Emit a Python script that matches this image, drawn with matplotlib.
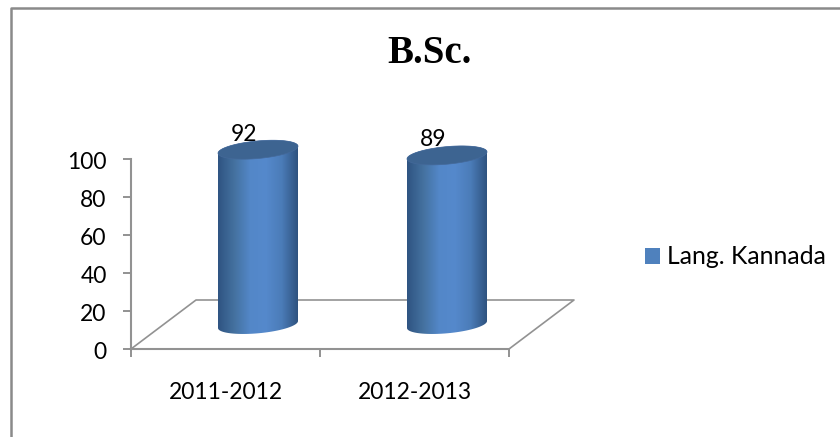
import matplotlib
matplotlib.use('Agg')
import matplotlib.pyplot as plt
import numpy as np
from matplotlib.colors import LinearSegmentedColormap
from matplotlib.lines import Line2D
from matplotlib.patches import Polygon, Rectangle
from matplotlib.transforms import ScaledTranslation

categories = ['2011-2012', '2012-2013']
values = [92, 89]
series_name = 'Lang. Kannada'
y_ticks = [0, 20, 40, 60, 80, 100]
title = 'B.Sc.'

W, H = 840, 437
AX_L, AX_R, AX_B, AX_T = 131, 509, 349, 159
PX_X = 1 / ((AX_R - AX_L) / 2)   # one pixel in category units
PX_Y = 100 / (AX_B - AX_T)       # one pixel in value units

GREY = '#929292'
FONT = 'Lato'
FS = 16.5

# depth of the fake 3d floor, in pixels
DEPTH_X, DEPTH_Y = 65, 49
cmap = LinearSegmentedColormap.from_list(
    'cyl', ['#2f5482', '#44719f', '#5387c8', '#5589cc', '#4b7cb8', '#2f5380'])


def ellipse(cx, cy, t):
    # sheared ellipse in pixels offset from a data point
    hw, slope, b = 40, 3.5, 8.8
    x = cx + hw * PX_X * np.cos(t)
    y = cy + (slope * np.cos(t) + b * np.sin(t)) * PX_Y
    return np.column_stack([x, y])


def cylinder(ax, x, v):
    cx = x + DEPTH_X / 2 * PX_X
    base = DEPTH_Y / 2 * PX_Y
    top = base + v
    t_up = np.linspace(np.pi, 0, 60)
    t_down = np.linspace(0, -np.pi, 60)
    body = Polygon(np.vstack([ellipse(cx, top, t_up), ellipse(cx, base, t_down)]),
                   closed=True, transform=ax.transData, fc='none', ec='none')
    ax.add_patch(body)
    hw = 40 * PX_X
    im = ax.imshow(np.linspace(0, 1, 128).reshape(1, -1), cmap=cmap, aspect='auto',
                   extent=[cx - hw, cx + hw, 0, top + 10], zorder=3)
    im.set_clip_box(fig.bbox)
    im.set_clip_path(body)
    cap = Polygon(ellipse(cx, top, np.linspace(0, 2 * np.pi, 120)), closed=True,
                  fc='#3d6491', ec='#44699a', lw=0.5, zorder=4, clip_on=False)
    ax.add_patch(cap)
    ax.text(cx - 13.5 * PX_X, top + 4.8, str(v), ha='center', va='baseline',
            fontsize=FS, family=FONT, color='black', zorder=2, clip_on=False)


fig = plt.figure(figsize=(W / 100, H / 100), dpi=100)
ax = fig.add_axes([AX_L / W, 1 - AX_B / H, (AX_R - AX_L) / W, (AX_B - AX_T) / H])

x = np.arange(len(categories))
for xi, v in zip(x, values):
    cylinder(ax, xi, v)

# floor
x0, x1 = -0.5, 1.5
dx, dy = DEPTH_X * PX_X, DEPTH_Y * PX_Y
ax.plot([x0, x0 + dx, x1 + dx, x1], [0, dy, dy, 0], color=GREY, lw=1.2,
        clip_on=False, zorder=1)

ax.set_xlim(x0, x1)
ax.set_ylim(0, 100)
ax.set_yticks(y_ticks)
ax.set_xticks([-0.5, 0.5, 1.5])
ax.set_xticklabels([])
ax.set_xticks(x, categories, minor=True)
ax.tick_params(axis='x', which='minor', length=0, pad=24, labelsize=FS)
ax.tick_params(axis='x', which='major', length=5.5, width=1.4, color=GREY)
ax.tick_params(axis='y', length=5.5, width=1.4, color=GREY, labelsize=FS, pad=12)
for lab in ax.get_xticklabels(minor=True) + ax.get_yticklabels():
    lab.set_family(FONT)
nudge = ScaledTranslation(0, -1.5 / 100, fig.dpi_scale_trans)
for lab in ax.get_yticklabels():
    lab.set_transform(lab.get_transform() + nudge)
for s in ['top', 'right']:
    ax.spines[s].set_visible(False)
for s in ['left', 'bottom']:
    ax.spines[s].set_color(GREY)
    ax.spines[s].set_linewidth(1.5)
ax.patch.set_alpha(0)

fig.text(430 / W, 1 - 63 / H, title, ha='center', va='baseline', fontsize=28,
         family='Liberation Serif', weight='bold')

# chart frame, only top and left show in the crop
fig.add_artist(Line2D([10.5 / W, 10.5 / W, 1], [0, 1 - 8 / H, 1 - 8 / H],
                      color='#8a8a8a', lw=1.8))

handle = Rectangle((0, 0), 1, 1, fc='#4f81bd', ec='none')
fig.legend([handle], [series_name], loc='center left',
           bbox_to_anchor=(645 / W, 1 - 257 / H), frameon=False,
           prop={'family': FONT, 'size': 17.8}, handlelength=0.6,
           handleheight=0.6, handletextpad=0.3, borderpad=0, borderaxespad=0)

fig.savefig('out.png', dpi=100)
